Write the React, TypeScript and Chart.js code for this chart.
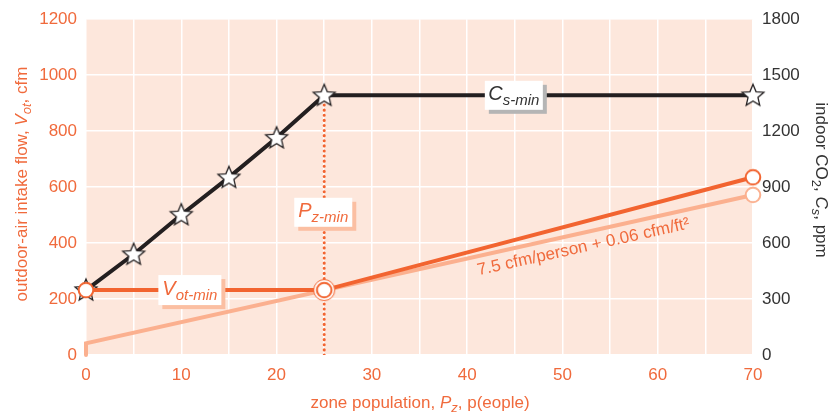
import React, { useEffect, useRef } from 'react';
import { Chart, registerables } from 'chart.js';
Chart.register(...registerables);

// ---- data ----
const population = [0, 5, 10, 15, 20, 25, 70];
const co2Ppm = [348, 540, 752, 952, 1164, 1392, 1392];
const votPopulation = [0, 25, 70];
const votCfm = [232, 232, 635];
const vbzPopulation = [0, 0, 70];
const vbzCfm = [0, 42, 572];
const pzMinPopulation = [25, 25];
const pzMinCfm = [0, 928];
const xTickLabels = [0, 10, 20, 30, 40, 50, 60, 70];
const leftTicks = [0, 200, 400, 600, 800, 1000, 1200];
const rightTicks = [0, 300, 600, 900, 1200, 1500, 1800];

const FONT = '"Liberation Sans", Arial, sans-serif';
const ORANGE = '#f26430';
const ORANGE_TXT = '#f06a3c';
const LIGHT = '#fbb08f';
const BLACK = '#231f20';
const BG = '#fde7dc';

type Seg = { t: string; it?: boolean; sub?: boolean };

function segFont(s: Seg, size: number) {
  return `${s.it ? 'italic ' : ''}${s.sub ? Math.round(size * 0.74) : size}px ${FONT}`;
}
function richWidth(ctx: CanvasRenderingContext2D, segs: Seg[], size: number) {
  let w = 0;
  segs.forEach((s) => {
    ctx.font = segFont(s, size);
    w += ctx.measureText(s.t).width;
  });
  return w;
}
function drawRich(ctx: CanvasRenderingContext2D, segs: Seg[], x: number, y: number, size: number, color: string) {
  const w = richWidth(ctx, segs, size);
  let cx = x - w / 2;
  ctx.fillStyle = color;
  ctx.textBaseline = 'middle';
  ctx.textAlign = 'left';
  segs.forEach((s) => {
    ctx.font = segFont(s, size);
    ctx.fillText(s.t, cx, y + (s.sub ? size * 0.32 : 0));
    cx += ctx.measureText(s.t).width;
  });
}

function makeStar() {
  const c = document.createElement('canvas');
  c.width = 28; c.height = 28;
  const g = c.getContext('2d')!;
  const R = 11.5, r = 5.2;
  g.beginPath();
  for (let i = 0; i < 10; i++) {
    const a = -Math.PI / 2 + (i * Math.PI) / 5;
    const rr = i % 2 === 0 ? R : r;
    const px = 14 + rr * Math.cos(a), py = 14.5 + rr * Math.sin(a);
    if (i === 0) g.moveTo(px, py); else g.lineTo(px, py);
  }
  g.closePath();
  g.fillStyle = '#ffffff';
  g.fill();
  g.lineWidth = 1.3;
  g.strokeStyle = BLACK;
  g.stroke();
  return c;
}
function makeCircle(color: string, ring: boolean) {
  const c = document.createElement('canvas');
  c.width = 24; c.height = 24;
  const g = c.getContext('2d')!;
  if (ring) {
    g.beginPath();
    g.arc(12, 12, 10.5, 0, Math.PI * 2);
    g.fillStyle = '#ffffff';
    g.fill();
    g.lineWidth = 1;
    g.strokeStyle = color;
    g.stroke();
  }
  g.beginPath();
  g.arc(12, 12, 7.3, 0, Math.PI * 2);
  g.fillStyle = '#ffffff';
  g.fill();
  g.lineWidth = 2;
  g.strokeStyle = color;
  g.stroke();
  return c;
}

function boxLabel(ctx: CanvasRenderingContext2D, cx: number, cy: number, w: number, h: number, shadow: string, segs: Seg[], color: string, size: number) {
  ctx.fillStyle = shadow;
  ctx.fillRect(cx - w / 2 + 4, cy - h / 2 + 4, w, h);
  ctx.fillStyle = '#ffffff';
  ctx.fillRect(cx - w / 2, cy - h / 2, w, h);
  drawRich(ctx, segs, cx, cy - 1, size, color);
}

const decoPlugin = {
  id: 'deco',
  beforeDraw(chart: any) {
    const { ctx, chartArea: a } = chart;
    ctx.save();
    ctx.fillStyle = BG;
    ctx.fillRect(a.left, a.top, a.right - a.left, a.bottom - a.top);
    ctx.restore();
  },
  afterDraw(chart: any) {
    const { ctx } = chart;
    const xs = chart.scales.x, ys = chart.scales.y;
    ctx.save();
    // label boxes
    boxLabel(ctx, xs.getPixelForValue(44.9), ys.getPixelForValue(928), 58, 29, '#b5b5b5',
      [{ t: 'C', it: true }, { t: 's-min', it: true, sub: true }], '#333333', 20);
    boxLabel(ctx, xs.getPixelForValue(10.9), ys.getPixelForValue(232), 63, 30, '#fbbfa2',
      [{ t: 'V', it: true }, { t: 'ot-min', it: true, sub: true }], ORANGE_TXT, 20);
    boxLabel(ctx, xs.getPixelForValue(24.9), ys.getPixelForValue(510), 58, 29, '#fbbfa2',
      [{ t: 'P', it: true }, { t: 'z-min', it: true, sub: true }], ORANGE_TXT, 20);

    // formula text along light line
    const p0x = xs.getPixelForValue(vbzPopulation[1]), p0y = ys.getPixelForValue(vbzCfm[1]);
    const p1x = xs.getPixelForValue(vbzPopulation[2]), p1y = ys.getPixelForValue(vbzCfm[2]);
    const ang = Math.atan2(p1y - p0y, p1x - p0x);
    ctx.save();
    ctx.translate(xs.getPixelForValue(52.2), ys.getPixelForValue(385));
    ctx.rotate(ang);
    ctx.fillStyle = ORANGE_TXT;
    ctx.font = `17px ${FONT}`;
    ctx.textAlign = 'center';
    ctx.textBaseline = 'middle';
    ctx.fillText('7.5 cfm/person + 0.06 cfm/ft²', 0, 0);
    ctx.restore();

    // axis titles
    ctx.save();
    ctx.translate(22, 184);
    ctx.rotate(-Math.PI / 2);
    drawRich(ctx, [{ t: 'outdoor-air intake flow, ' }, { t: 'V', it: true }, { t: 'ot', it: true, sub: true }, { t: ', cfm' }], 0, 0, 17, ORANGE_TXT);
    ctx.restore();

    ctx.save();
    ctx.translate(821, 180);
    ctx.rotate(Math.PI / 2);
    drawRich(ctx, [{ t: 'indoor CO' }, { t: '2', sub: true }, { t: ', ' }, { t: 'C', it: true }, { t: 's', it: true, sub: true }, { t: ', ppm' }], 0, 0, 17, '#333333');
    ctx.restore();

    drawRich(ctx, [{ t: 'zone population, ' }, { t: 'P', it: true }, { t: 'z', it: true, sub: true }, { t: ', p(eople)' }], 420, 403, 17, ORANGE_TXT);
    ctx.restore();
  },
};

export default function App() {
  const ref = useRef<HTMLCanvasElement>(null);
  useEffect(() => {
    document.body.style.margin = '0';
    const star = makeStar();
    const circ = makeCircle(ORANGE, false);
    const ring = makeCircle(ORANGE, true);
    const lcirc = makeCircle(LIGHT, false);
    const chart = new Chart(ref.current!, {
      type: 'line',
      data: {
        datasets: [
          {
            label: 'Vot',
            data: votPopulation.map((x, i) => ({ x, y: votCfm[i] })),
            borderColor: ORANGE,
            borderWidth: 4,
            pointStyle: [circ, ring, circ] as any,
            pointRadius: 8,
            yAxisID: 'y',
            clip: false as any,
          },
          {
            label: 'Vbz',
            data: vbzPopulation.map((x, i) => ({ x, y: vbzCfm[i] })),
            borderColor: LIGHT,
            borderWidth: 4,
            borderCapStyle: 'round',
            pointStyle: [false, false, lcirc] as any,
            pointRadius: [0, 0, 8],
            yAxisID: 'y',
            clip: false as any,
          },
          {
            label: 'Cs',
            data: population.map((x, i) => ({ x, y: co2Ppm[i] })),
            borderColor: BLACK,
            borderWidth: 4,
            pointStyle: star as any,
            pointRadius: 12,
            yAxisID: 'y2',
            clip: false as any,
          },
          {
            label: 'Pzmin',
            data: pzMinPopulation.map((x, i) => ({ x, y: pzMinCfm[i] })),
            borderColor: ORANGE,
            borderWidth: 3,
            borderDash: [0.1, 5],
            borderCapStyle: 'round',
            pointRadius: 0,
            yAxisID: 'y',
          },
        ],
      },
      options: {
        animation: false,
        responsive: true,
        maintainAspectRatio: false,
        layout: { padding: { top: 15, left: 0, right: 0, bottom: 0 } },
        plugins: { legend: { display: false }, tooltip: { enabled: false } },
        elements: { line: { tension: 0 } },
        scales: {
          x: {
            type: 'linear',
            min: 0,
            max: 70,
            grid: { color: '#ffffff', lineWidth: 1.5, drawTicks: false },
            border: { display: false },
            ticks: {
              stepSize: 5,
              autoSkip: false,
              maxRotation: 0,
              padding: 10,
              color: ORANGE_TXT,
              font: { family: FONT, size: 17 },
              callback: (v: any) => (xTickLabels.includes(Number(v)) ? String(v) : ''),
            },
            afterFit: (s: any) => { s.height = 59; },
          },
          y: {
            position: 'left',
            min: 0,
            max: 1200,
            grid: { color: '#ffffff', lineWidth: 1.5, drawTicks: false },
            border: { display: false },
            ticks: {
              stepSize: 200,
              padding: 9,
              color: ORANGE_TXT,
              font: { family: FONT, size: 17 },
              callback: (v: any) => (leftTicks.includes(Number(v)) ? String(v) : ''),
            },
            afterFit: (s: any) => { s.width = 86; },
          },
          y2: {
            position: 'right',
            min: 0,
            max: 1800,
            grid: { display: false, drawTicks: false },
            border: { display: false },
            ticks: {
              stepSize: 300,
              padding: 9,
              color: '#333333',
              font: { family: FONT, size: 17 },
              callback: (v: any) => (rightTicks.includes(Number(v)) ? String(v) : ''),
            },
            afterFit: (s: any) => { s.width = 80; },
          },
        },
      },
      plugins: [decoPlugin],
    } as any);
    return () => chart.destroy();
  }, []);
  return (
    <div style={{ position: 'absolute', left: 0, top: 0, width: 833, height: 414 }}>
      <canvas ref={ref} />
    </div>
  );
}
